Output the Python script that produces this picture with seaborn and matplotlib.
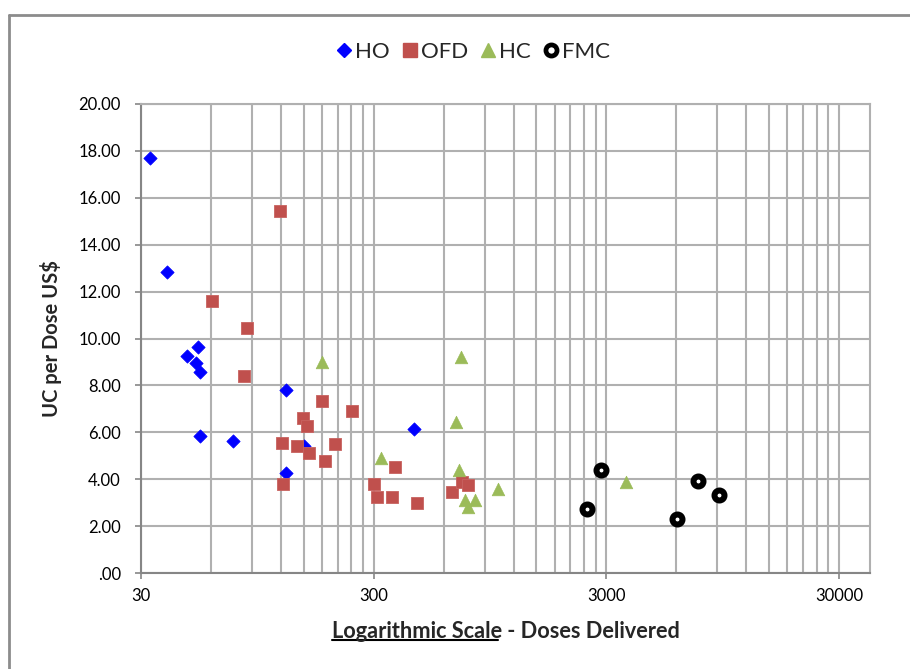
import numpy as np
import pandas as pd
import matplotlib
matplotlib.use("Agg")
import matplotlib.pyplot as plt
import seaborn as sns
from matplotlib.lines import Line2D
from matplotlib.ticker import FixedLocator, FixedFormatter, NullFormatter

# ---------------- data ----------------
ho_doses = [32.8, 38.7, 52.6, 47.4, 51.8, 53.8, 53.8, 74.5, 125.5, 150.6, 125.5, 448]
ho_cost = [17.70, 12.85, 9.62, 9.25, 8.94, 8.57, 5.84, 5.64, 7.79, 5.43, 4.25, 6.13]

ofd_doses = [118.8, 60.5, 85.3, 83.4, 180, 242, 149, 155.5, 121.5, 140.7, 158,
             203.6, 184.8, 122, 300, 309, 359, 370, 459, 648, 716, 762]
ofd_cost = [15.45, 11.61, 10.45, 8.40, 7.35, 6.92, 6.61, 6.27, 5.53, 5.42, 5.10,
            5.50, 4.76, 3.80, 3.78, 3.25, 3.25, 4.53, 3.00, 3.47, 3.89, 3.75]

hc_doses = [180, 324, 709, 677, 697, 739, 818, 766, 1023, 3660]
hc_cost = [9.00, 4.90, 9.20, 6.45, 4.40, 3.10, 3.10, 2.80, 3.60, 3.90]

fmc_doses = [2478, 2832, 6030, 7398, 9120]
fmc_cost = [2.72, 4.39, 2.32, 3.94, 3.31]

series_names = ["HO", "OFD", "HC", "FMC"]
x_major_ticks = [30, 300, 3000, 30000]
x_tick_labels = ["30", "300", "3000", "30000"]
y_ticks = [0, 2, 4, 6, 8, 10, 12, 14, 16, 18, 20]
y_tick_labels = [".00", "2.00", "4.00", "6.00", "8.00", "10.00", "12.00",
                 "14.00", "16.00", "18.00", "20.00"]

# ---------------- style ----------------
sns.set_style("white")
plt.rcParams["font.family"] = ["Lato", "DejaVu Sans"]

W, H = 910, 669
fig = plt.figure(figsize=(W / 100, H / 100), dpi=100)
L, R, T, B = 141, 870, 104, 573
ax = fig.add_axes([L / W, 1 - B / H, (R - L) / W, (B - T) / H])

grid_c = "#B0B0B0"
axis_c = "#868686"

frames = {
    "HO": pd.DataFrame({"doses": ho_doses, "cost": ho_cost}),
    "OFD": pd.DataFrame({"doses": ofd_doses, "cost": ofd_cost}),
    "HC": pd.DataFrame({"doses": hc_doses, "cost": hc_cost}),
    "FMC": pd.DataFrame({"doses": fmc_doses, "cost": fmc_cost}),
}

sns.scatterplot(data=frames["HO"], x="doses", y="cost", marker="D", s=46,
                color="#0000FF", edgecolor="#0000FF", linewidth=0.5, ax=ax,
                zorder=3, legend=False)
sns.scatterplot(data=frames["OFD"], x="doses", y="cost", marker="s", s=76,
                color="#C0504D", edgecolor="#C8625F", linewidth=0.6, ax=ax,
                zorder=4, legend=False)
sns.scatterplot(data=frames["HC"], x="doses", y="cost", marker="^", s=82,
                color="#9BBB59", edgecolor="#9BBB59", linewidth=0.5, ax=ax,
                zorder=5, legend=False)
sns.scatterplot(data=frames["FMC"], x="doses", y="cost", marker="o", s=52,
                color="white", edgecolor="black", linewidth=4.3, ax=ax,
                zorder=6, legend=False)

ax.set_xscale("log")
ax.set_xlim(30, 40740)
ax.set_ylim(0, 20)

minor = [30 * m * 10 ** k for k in range(3) for m in range(2, 10)]
ax.xaxis.set_major_locator(FixedLocator(x_major_ticks))
ax.xaxis.set_major_formatter(FixedFormatter(x_tick_labels))
ax.xaxis.set_minor_locator(FixedLocator(minor))
ax.xaxis.set_minor_formatter(NullFormatter())
ax.yaxis.set_major_locator(FixedLocator(y_ticks))
ax.yaxis.set_major_formatter(FixedFormatter(y_tick_labels))

ax.grid(which="both", axis="x", color=grid_c, linewidth=1.5)
ax.grid(which="major", axis="y", color=grid_c, linewidth=1.5)
ax.set_axisbelow(True)

ax.tick_params(axis="x", which="major", direction="out", length=4.5, width=1.2,
               color=axis_c, labelsize=12, pad=6, labelcolor="black", bottom=True)
ax.tick_params(axis="x", which="minor", length=0)
ax.tick_params(axis="y", which="major", direction="out", length=4.5, width=1.2,
               color=axis_c, labelsize=12, pad=10, labelcolor="black", left=True)

for side in ["left", "bottom"]:
    ax.spines[side].set_color(axis_c)
    ax.spines[side].set_linewidth(1.5)
for side in ["top", "right"]:
    ax.spines[side].set_color(grid_c)
    ax.spines[side].set_linewidth(1.5)

ax.set_xlabel("")
ax.set_ylabel("UC per Dose US$", fontsize=14.5, fontweight="bold", labelpad=12)

# x label with underlined first part
fig.canvas.draw()
renderer = fig.canvas.get_renderer()
ylab = 1 - 632 / H
t1 = fig.text(0, ylab, "Logarithmic Scale", fontsize=15.7, fontweight="bold", va="center")
t2 = fig.text(0, ylab, " - Doses Delivered", fontsize=15.7, fontweight="bold", va="center")
w1 = t1.get_window_extent(renderer).width
w2 = t2.get_window_extent(renderer).width
cx = (L + R) / 2
x0 = cx - (w1 + w2) / 2
t1.set_x(x0 / W)
t2.set_x((x0 + w1) / W)
bb = t1.get_window_extent(renderer)
uy = (bb.y0 + 3) / H
fig.add_artist(Line2D([x0 / W, (x0 + w1 - 4) / W], [uy, uy], color="black",
                      linewidth=1.5, transform=fig.transFigure))

# legend
handles = [
    Line2D([], [], linestyle="none", marker="D", markersize=7, color="#0000FF"),
    Line2D([], [], linestyle="none", marker="s", markersize=10, color="#C0504D"),
    Line2D([], [], linestyle="none", marker="^", markersize=10.5, color="#9BBB59"),
    Line2D([], [], linestyle="none", marker="o", markersize=8, markerfacecolor="white",
           markeredgecolor="black", markeredgewidth=3.4),
]
fig.legend(handles, series_names, loc="center", bbox_to_anchor=(472 / W, 1 - 52 / H),
           ncol=4, frameon=False, fontsize=16, handletextpad=0.05,
           columnspacing=0.45, handlelength=0.9)

# outer chart border (top-left visible)
fig.add_artist(Line2D([9 / W, 9 / W], [0, 1 - 15 / H], color="#8C8C8C", linewidth=2,
                      transform=fig.transFigure))
fig.add_artist(Line2D([9 / W, 1], [1 - 15 / H, 1 - 15 / H], color="#8C8C8C", linewidth=2,
                      transform=fig.transFigure))

fig.savefig("out.png", dpi=100)
